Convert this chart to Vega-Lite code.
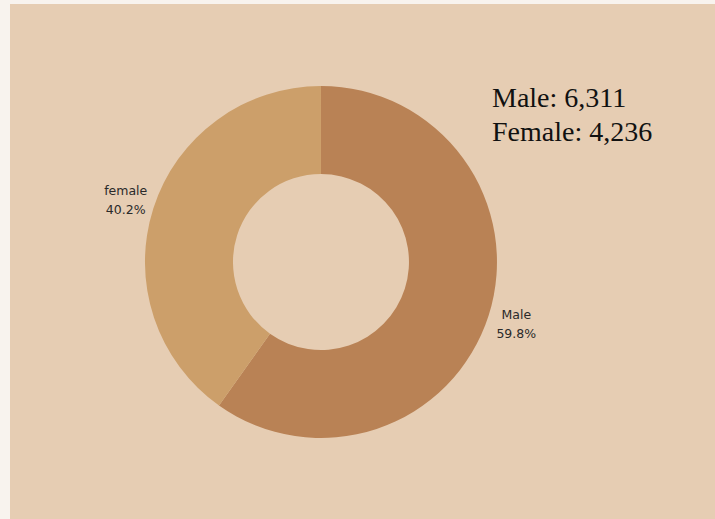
{
  "$schema": "https://vega.github.io/schema/vega-lite/v6.json",
  "width": 715,
  "height": 519,
  "autosize": {"type": "fit", "contains": "padding"},
  "padding": {"left": 10, "top": 4, "right": 0, "bottom": 0},
  "background": "#f8f3ee",
  "config": {"view": {"fill": "#e6cdb3", "stroke": null}},
  "layer": [
    {
      "data": {
        "values": [
          {"gender": "Male", "count": 6311, "rank": 1, "label": "Male\n59.8%"},
          {"gender": "female", "count": 4236, "rank": 2, "label": "female\n40.2%"}
        ]
      },
      "encoding": {
        "theta": {"field": "count", "type": "quantitative", "stack": true},
        "order": {"field": "rank", "type": "quantitative"},
        "color": {
          "field": "gender",
          "type": "nominal",
          "scale": {"domain": ["Male", "female"], "range": ["#b98255", "#cc9f6a"]},
          "legend": null
        }
      },
      "layer": [
        {
          "mark": {
            "type": "arc",
            "innerRadius": 88,
            "outerRadius": 176,
            "x": {"expr": "width*0.4411"},
            "y": {"expr": "height*0.501"}
          }
        },
        {
          "mark": {
            "type": "text",
            "radius": 205,
            "font": "DejaVu Sans",
            "fontSize": 12.5,
            "lineBreak": "\n",
            "lineHeight": 19,
            "dy": -9,
            "fill": "#2a2a2a",
            "x": {"expr": "width*0.4411"},
            "y": {"expr": "height*0.501"}
          },
          "encoding": {
            "text": {"field": "label", "type": "nominal"},
            "color": {"value": "#2a2a2a"}
          }
        }
      ]
    },
    {
      "data": {
        "values": [
          {"line": "Male: 6,311"},
          {"line": "Female: 4,236"}
        ]
      },
      "mark": {
        "type": "text",
        "align": "left",
        "baseline": "alphabetic",
        "font": "Liberation Serif",
        "fontSize": 28,
        "fill": "#111111",
        "x": {"expr": "width*0.6837"}
      },
      "encoding": {
        "text": {"field": "line", "type": "nominal"},
        "y": {
          "field": "line",
          "type": "nominal",
          "sort": null,
          "scale": {"type": "point", "range": [103, 137], "padding": 0},
          "axis": null
        }
      }
    }
  ]
}
